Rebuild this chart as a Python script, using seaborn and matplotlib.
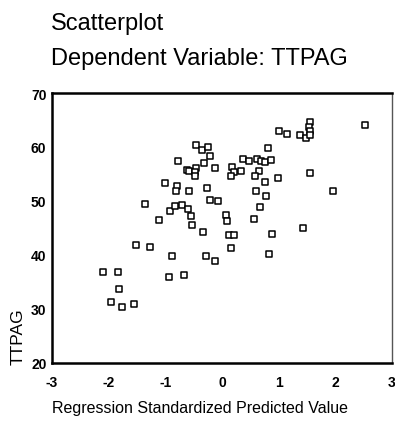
import matplotlib
matplotlib.use("Agg")
import matplotlib.pyplot as plt
import seaborn as sns
import pandas as pd

pred = [-2.097, -1.832, -1.822, -1.951, -1.769, -1.545, -1.510, -1.263, -1.363, -1.113,
        -1.011, -0.928, -0.884, -0.677, -0.915, -0.831, -0.711, -0.605, -0.540, -0.522,
        -0.792, -0.804, -0.580, -0.781, -0.619, -0.587, -0.451, -0.469, -0.474, -0.457,
        -0.351, -0.252, -0.219, -0.323, -0.116, -0.272, -0.217, -0.076, -0.337, -0.275,
        -0.116, 0.069, 0.083, 0.131, 0.205, 0.153, 0.175, 0.210, 0.153, 0.342,
        0.365, 0.471, 0.624, 0.690, 0.765, 0.871, 0.815, 0.647, 0.575, 0.753,
        0.989, 0.607, 0.774, 0.677, 0.571, 0.880, 0.832, 1.007, 1.141, 1.377,
        1.489, 1.550, 1.538, 1.547, 1.559, 2.524, 1.547, 1.965, 1.436]
ttpag = [36.77, 36.77, 33.66, 31.30, 30.32, 30.87, 41.90, 41.56, 49.52, 46.43,
         53.27, 35.84, 39.74, 36.26, 48.16, 49.00, 49.28, 48.53, 47.23, 45.59,
         52.75, 51.88, 51.82, 57.42, 55.72, 55.59, 56.10, 55.35, 54.63, 60.30,
         59.41, 60.00, 58.38, 56.99, 56.15, 52.47, 50.20, 49.93, 44.31, 39.89,
         38.92, 47.32, 46.34, 43.74, 43.79, 41.25, 56.38, 55.41, 54.72, 55.54,
         57.86, 57.32, 57.83, 57.45, 57.27, 57.60, 59.78, 55.52, 54.70, 53.61,
         54.35, 51.88, 50.99, 48.96, 46.67, 43.85, 40.22, 62.97, 62.34, 62.16,
         61.67, 64.57, 63.68, 62.94, 62.16, 64.11, 55.13, 51.80, 44.94]
x_ticks = [-3, -2, -1, 0, 1, 2, 3]
y_ticks = [20, 30, 40, 50, 60, 70]

df = pd.DataFrame({"pred": pred, "TTPAG": ttpag})

sns.set_style("white")
plt.rcParams["font.family"] = ["Liberation Sans", "DejaVu Sans"]
plt.rcParams["text.color"] = "black"

fig = plt.figure(figsize=(3.95, 4.31), dpi=100)
ax = fig.add_axes([0.1316, 0.1555, 0.8608, 0.6264])
sns.scatterplot(data=df, x="pred", y="TTPAG", ax=ax, marker="s", s=15,
                facecolor="white", edgecolor="black", linewidth=1.1)

ax.set_xlim(-3, 3)
ax.set_ylim(20, 70)
ax.set_xticks(x_ticks)
ax.set_yticks(y_ticks)
ax.set_xticklabels([str(t) for t in x_ticks], fontsize=10, fontweight="bold")
ax.set_yticklabels([str(t) for t in y_ticks], fontsize=10, fontweight="bold")
ax.tick_params(axis="x", direction="inout", length=5, width=1, pad=6, colors="black")
ax.tick_params(axis="y", direction="out", length=3, width=1, pad=1, colors="black")
ax.set_xlabel("")
ax.set_ylabel("")
for side in ["top", "left", "bottom"]:
    ax.spines[side].set_linewidth(1.8)
    ax.spines[side].set_color("black")
ax.spines["right"].set_linewidth(1.0)
ax.spines["right"].set_color("#555555")

fig.text(51 / 395, 1 - 13 / 431, "Scatterplot", fontsize=17, va="top", ha="left", color="black")
fig.text(51 / 395, 1 - 48 / 431, "Dependent Variable: TTPAG", fontsize=17, va="top", ha="left", color="black")
fig.text(200 / 395, 1 - 409 / 431, "Regression Standardized Predicted Value",
         fontsize=11.5, ha="center", va="center", color="black")
fig.text(18 / 395, 1 - 337 / 431, "TTPAG", fontsize=12.5, rotation=90,
         ha="center", va="center", color="black")

fig.savefig("out.png", dpi=100)
